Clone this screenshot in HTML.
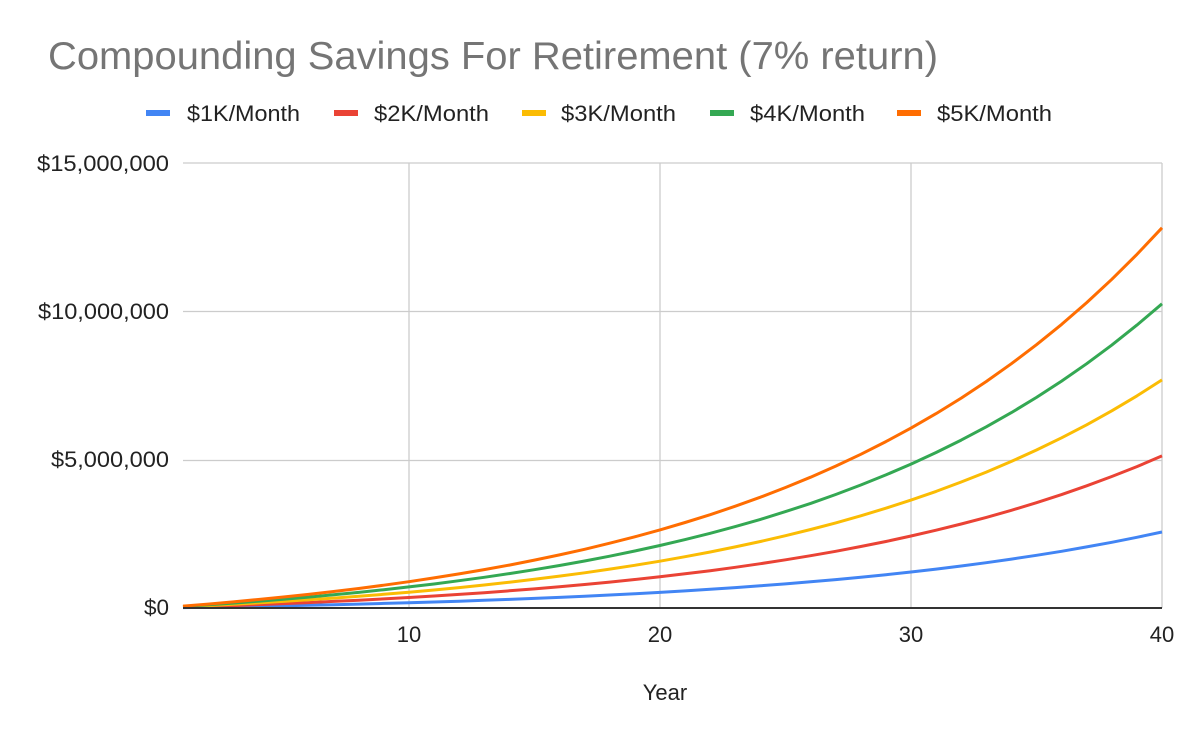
<!DOCTYPE html>
<html><head><meta charset="utf-8"><style>
html,body{margin:0;padding:0;background:#fff;}
svg{display:block;font-family:"Liberation Sans",Arial,sans-serif;}
</style></head><body>
<svg id="c" width="1200" height="742" viewBox="0 0 1200 742" xmlns="http://www.w3.org/2000/svg">
<rect width="1200" height="742" fill="#fff"/>
<text x="48" y="69" font-size="39" fill="#757575" textLength="890" lengthAdjust="spacingAndGlyphs">Compounding Savings For Retirement (7% return)</text>
<g font-size="22" fill="#222">
<rect x="146" y="110" width="24" height="6" fill="#4285f4"/><text x="187" y="121" textLength="113" lengthAdjust="spacingAndGlyphs">$1K/Month</text>
<rect x="334" y="110" width="24" height="6" fill="#ea4335"/><text x="374" y="121" textLength="115" lengthAdjust="spacingAndGlyphs">$2K/Month</text>
<rect x="522" y="110" width="24" height="6" fill="#fbbc04"/><text x="561" y="121" textLength="115" lengthAdjust="spacingAndGlyphs">$3K/Month</text>
<rect x="710" y="110" width="24" height="6" fill="#34a853"/><text x="750" y="121" textLength="115" lengthAdjust="spacingAndGlyphs">$4K/Month</text>
<rect x="897" y="110" width="24" height="6" fill="#ff6d01"/><text x="937" y="121" textLength="115" lengthAdjust="spacingAndGlyphs">$5K/Month</text>
</g>
<g stroke="#ccc" stroke-width="1.3">
<line x1="183" y1="163" x2="1162" y2="163"/>
<line x1="183" y1="311.5" x2="1162" y2="311.5"/>
<line x1="183" y1="460.5" x2="1162" y2="460.5"/>
<line x1="409" y1="163" x2="409" y2="608"/>
<line x1="660" y1="163" x2="660" y2="608"/>
<line x1="911" y1="163" x2="911" y2="608"/>
<line x1="1162" y1="163" x2="1162" y2="608"/>
</g>
<g font-size="22" fill="#222" text-anchor="end">
<text x="169" y="171" textLength="132" lengthAdjust="spacingAndGlyphs">$15,000,000</text>
<text x="169" y="319" textLength="131" lengthAdjust="spacingAndGlyphs">$10,000,000</text>
<text x="169" y="467" textLength="118" lengthAdjust="spacingAndGlyphs">$5,000,000</text>
<text x="169" y="615" textLength="25" lengthAdjust="spacingAndGlyphs">$0</text>
</g>
<g font-size="22" fill="#222" text-anchor="middle">
<text x="409" y="642">10</text>
<text x="660" y="642">20</text>
<text x="911" y="642">30</text>
<text x="1162" y="642">40</text>
<text x="665" y="700">Year</text>
</g>
<g id="lines" fill="none" stroke-width="3" stroke-linejoin="round"></g>
<line x1="183" y1="608" x2="1162" y2="608" stroke="#333" stroke-width="2"/>
</svg>
<script>
var cols=["#4285f4","#ea4335","#fbbc04","#34a853","#ff6d01"];
var g=document.getElementById("lines");
for(var k=1;k<=5;k++){
 var d="";
 for(var n=1;n<=40;n++){
  var v=12000*k*((Math.pow(1.07,n)-1)/0.07)*1.07;
  var x=183+(n-1)*(1162-183)/39;
  var y=608-v/15000000*445;
  d+=(n==1?"M":"L")+x.toFixed(1)+","+y.toFixed(1);
 }
 var p=document.createElementNS("http://www.w3.org/2000/svg","path");
 p.setAttribute("d",d);p.setAttribute("stroke",cols[k-1]);
 g.appendChild(p);
}
</script>
</body></html>
